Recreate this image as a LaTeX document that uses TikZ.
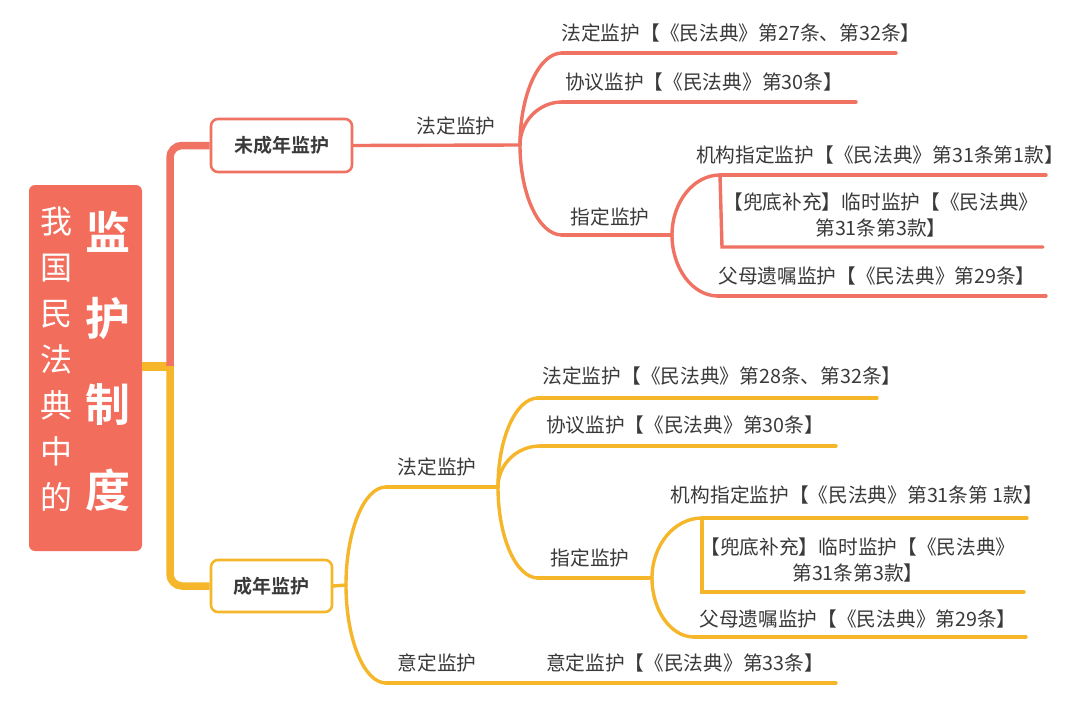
\documentclass[tikz,border=0pt]{standalone}
\usepackage{fontspec}
\setmainfont{Noto Sans CJK SC}[BoldFont={Noto Sans CJK SC Bold}]
\usetikzlibrary{calc}
\definecolor{salmon}{HTML}{F26D5B}
\definecolor{sline}{HTML}{EF7262}
\definecolor{yline}{HTML}{F5B62A}
\definecolor{txt}{HTML}{3A3A3A}
\newcommand\mmcurve[3]{%
  \path (#2|-#3) coordinate (tmpc);
  \draw[#1] (#2) .. controls ($(#2)!0.55!(tmpc)$) and ($(#3)!0.55!(tmpc)$) .. (#3);}
\begin{document}
\begin{tikzpicture}[x=1pt,y=-1pt,
  lbl/.style={text=txt,inner sep=0pt,font=\fontsize{19.7}{26}\selectfont,align=center},
  rl/.style={draw=sline,line width=3.4pt,line cap=round},
  yl/.style={draw=yline,line width=3.4pt,line cap=round},
  topicbox/.style={draw,line width=2.6pt,fill=white,rounded corners=7pt,inner sep=0pt,
    text=txt,font=\bfseries\fontsize{19}{24}\selectfont}]
\useasboundingbox (0,0) rectangle (1080,715);
\fill[white] (0,0) rectangle (1080,715);
% root
\node[fill=salmon,rounded corners=6pt,minimum width=113pt,minimum height=366pt,inner sep=0pt] (root) at (85.5,368) {};
\node[text=white,inner sep=0pt,align=center,font=\fontsize{32}{46}\selectfont] (rootA) at (56,359) {我\\国\\民\\法\\典\\中\\的};
\node[text=white,inner sep=0pt,align=center,font=\bfseries\fontsize{45}{86}\selectfont] (rootB) at (108,361) {监\\护\\制\\度};
% first level boxes
\node[topicbox,draw=sline,minimum width=141pt,minimum height=53pt] (minor) at (281.5,145.5) {未成年监护};
\node[topicbox,draw=yline,minimum width=121pt,minimum height=52pt] (adult) at (271.5,586) {成年监护};
% trunk
\coordinate (t0) at (root.east|-0,366);
\coordinate (tj) at (170,366);
\draw[yline,line width=9pt] (t0) -- (tj);
\draw[sline,line width=7.5pt,rounded corners=12pt] (tj) -- (tj|-minor.west) -- (minor.west);
\draw[yline,line width=7.5pt,rounded corners=12pt] (tj) -- (tj|-adult.west) -- (adult.west);
% ---------- top branch ----------
\coordinate (J1) at (520,145);
\draw[rl] (minor.east) -- (J1);
\coordinate (a1) at (562,53);  \coordinate (b1) at (896,53);
\coordinate (a2) at (562,102); \coordinate (b2) at (856,102);
\coordinate (a3) at (562,235); \coordinate (J2) at (672,235);
\mmcurve{rl}{J1}{a1} \draw[rl] (a1) -- (b1);
\mmcurve{rl}{J1}{a2} \draw[rl] (a2) -- (b2);
\mmcurve{rl}{J1}{a3} \draw[rl] (a3) -- (J2);
\coordinate (a4) at (720,175); \coordinate (b4) at (1046,175);
\coordinate (a5) at (722,247); \coordinate (b5) at (1043,247);
\coordinate (a6) at (718,296); \coordinate (b6) at (1046,296);
\mmcurve{rl}{J2}{a4} \draw[rl] (a4) -- (b4);
\draw[rl] (a4) -- (a5) -- (b5);
\mmcurve{rl}{J2}{a6} \draw[rl] (a6) -- (b6);
\node[lbl] (n1) at (456,126) {法定监护};
\node[lbl] (n2) at (741,33) {法定监护【《民法典》第27条、第32条】};
\node[lbl] (n3) at (704,82) {协议监护【《民法典》第30条】};
\node[lbl] (n4) at (610,217) {指定监护};
\node[lbl] (n5) at (880,155) {机构指定监护【《民法典》第31条第1款】};
\node[lbl] (n6) at (881,215) {【兜底补充】临时监护【《民法典》\\第31条第3款】};
\node[lbl] (n7) at (877,276) {父母遗嘱监护【《民法典》第29条】};
% ---------- bottom branch ----------
\coordinate (J3) at (346,585);
\draw[yl] (adult.east) -- (J3);
\coordinate (a7) at (386,487); \coordinate (J4) at (498,487);
\coordinate (a8) at (386,683); \coordinate (b8) at (836,683);
\mmcurve{yl}{J3}{a7} \draw[yl] (a7) -- (J4);
\mmcurve{yl}{J3}{a8} \draw[yl] (a8) -- (b8);
\coordinate (a9) at (538,398);  \coordinate (b9) at (877,398);
\coordinate (a10) at (540,446); \coordinate (b10) at (836,446);
\coordinate (a11) at (538,578); \coordinate (J5) at (652,578);
\mmcurve{yl}{J4}{a9} \draw[yl] (a9) -- (b9);
\mmcurve{yl}{J4}{a10} \draw[yl] (a10) -- (b10);
\mmcurve{yl}{J4}{a11} \draw[yl] (a11) -- (J5);
\coordinate (a12) at (702,518); \coordinate (b12) at (1027,518);
\coordinate (a13) at (702,592); \coordinate (b13) at (1024,592);
\coordinate (a14) at (694,637); \coordinate (b14) at (1026,637);
\mmcurve{yl}{J5}{a12} \draw[yl] (a12) -- (b12);
\draw[yl] (a12) -- (a13) -- (b13);
\mmcurve{yl}{J5}{a14} \draw[yl] (a14) -- (b14);
\node[lbl] (m1) at (437,467) {法定监护};
\node[lbl] (m2) at (722,376) {法定监护【《民法典》第28条、第32条】};
\node[lbl] (m3) at (685,425) {协议监护【《民法典》第30条】};
\node[lbl] (m4) at (590,558) {指定监护};
\node[lbl] (m5) at (857,495) {机构指定监护【《民法典》第31条第 1款】};
\node[lbl] (m6) at (858,560) {【兜底补充】临时监护【《民法典》\\第31条第3款】};
\node[lbl] (m7) at (858,619) {父母遗嘱监护【《民法典》第29条】};
\node[lbl] (m8) at (437,663) {意定监护};
\node[lbl] (m9) at (685,663) {意定监护【《民法典》第33条】};
\end{tikzpicture}
\end{document}
